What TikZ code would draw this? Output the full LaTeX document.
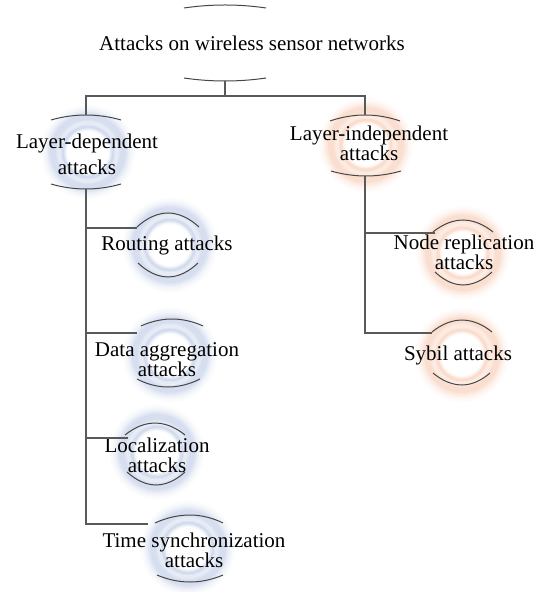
\documentclass[tikz,border=0pt]{standalone}
\usepackage{fontspec}
\setmainfont{Liberation Serif}
\definecolor{glowblue}{RGB}{176,192,224}
\definecolor{gloworange}{RGB}{246,192,165}
\definecolor{rimgray}{RGB}{70,70,70}
\begin{document}
\begin{tikzpicture}[x=0.5pt,y=-0.5pt]
\begin{scope}
\tikzstyle{word} = [font=\fontsize{10.5}{10}\selectfont,align=center,inner sep=0pt]
\tikzstyle{link} = [draw=black!65,line width=0.65pt]
\tikzstyle{rim} = [draw=rimgray,line width=0.5pt]

\useasboundingbox (0,0) rectangle (542,592);

%glow rings
\foreach \x/\y in {88/152,170/245,170/355,157/452,188/548}
{
  \foreach \w/\o in {24/0.06,19/0.09,14/0.13,10/0.18,6/0.22}
    \draw [glowblue,opacity=\o,line width=\w*0.5pt] (\x,\y) circle (35);
  \foreach \w/\o in {8/0.12,5/0.2,2.5/0.3}
    \draw [glowblue,opacity=\o,line width=\w*0.5pt] (\x,\y) circle (25);
}
\foreach \x/\y in {366/145,463/253,462/355}
{
  \foreach \w/\o in {24/0.06,19/0.09,14/0.13,10/0.18,6/0.22}
    \draw [gloworange,opacity=\o,line width=\w*0.5pt] (\x,\y) circle (35);
  \foreach \w/\o in {8/0.12,5/0.2,2.5/0.3}
    \draw [gloworange,opacity=\o,line width=\w*0.5pt] (\x,\y) circle (25);
}

%labels
\node [word] (root) at (252,43) {Attacks on wireless sensor networks};
\node [word] (ldep) at (87,154) {Layer-dependent\\[3pt]attacks};
\node [word] (lind) at (369,143) {Layer-independent\\attacks};
\node [word] (rout) at (167,245) {Routing attacks};
\node [word] (aggr) at (167,360) {Data aggregation\\attacks};
\node [word] (loc) at (157,455) {Localization\\attacks};
\node [word] (tsync) at (194,550) {Time synchronization\\attacks};
\node [word] (repl) at (464,252) {Node replication\\attacks};
\node [word] (sybil) at (458,355) {Sybil attacks};

%rims
\draw [rim] (184,8) parabola bend (225,5) (266,8);
\draw [rim] (184,78) parabola bend (225,81) (266,78);
\draw [rim] (51,120) parabola bend (86,115) (121,120);
\draw [rim] (51,184) parabola bend (86,189) (121,184);
\draw [rim] (330,121) parabola bend (365,115) (400,121);
\draw [rim] (331,171) parabola bend (366,176) (401,171);
\draw [rim] (137,227) parabola bend (168,213) (199,227);
\draw [rim] (138,263) parabola bend (168,277) (198,263);
\draw [rim] (141,326) parabola bend (172,319) (203,326);
\draw [rim] (137,379) parabola bend (168,387) (200,379);
\draw [rim] (125,435) parabola bend (155,423) (185,435);
\draw [rim] (127,472) parabola bend (156,485) (185,472);
\draw [rim] (155,523) parabola bend (190,515) (223,523);
\draw [rim] (157,575) parabola bend (190,582) (223,575);
\draw [rim] (433,232) parabola bend (463,220) (493,232);
\draw [rim] (435,272) parabola bend (463,285) (492,272);
\draw [rim] (432,332) parabola bend (462,320) (492,332);
\draw [rim] (433,373) parabola bend (462,385) (490,373);

%connectors
\coordinate (root-b) at (225,81);
\coordinate (bus) at (225,96);
\coordinate (ldep-t) at (86,115);
\coordinate (ldep-b) at (86,189);
\coordinate (lind-t) at (365,115);
\coordinate (lind-b) at (365,176);
\coordinate (rout-w) at (137,228);
\coordinate (aggr-w) at (137,333);
\coordinate (loc-w) at (128,438);
\coordinate (tsync-w) at (148,524);
\coordinate (repl-w) at (435,233);
\coordinate (sybil-w) at (432,333);

\draw [link] (root-b) -- (bus) -| (ldep-t);
\draw [link] (bus) -| (lind-t);
\foreach \n in {rout,aggr,loc,tsync}
  \draw [link] (ldep-b) |- (\n-w);
\foreach \n in {repl,sybil}
  \draw [link] (lind-b) |- (\n-w);
\end{scope}
\end{tikzpicture}
\end{document}
